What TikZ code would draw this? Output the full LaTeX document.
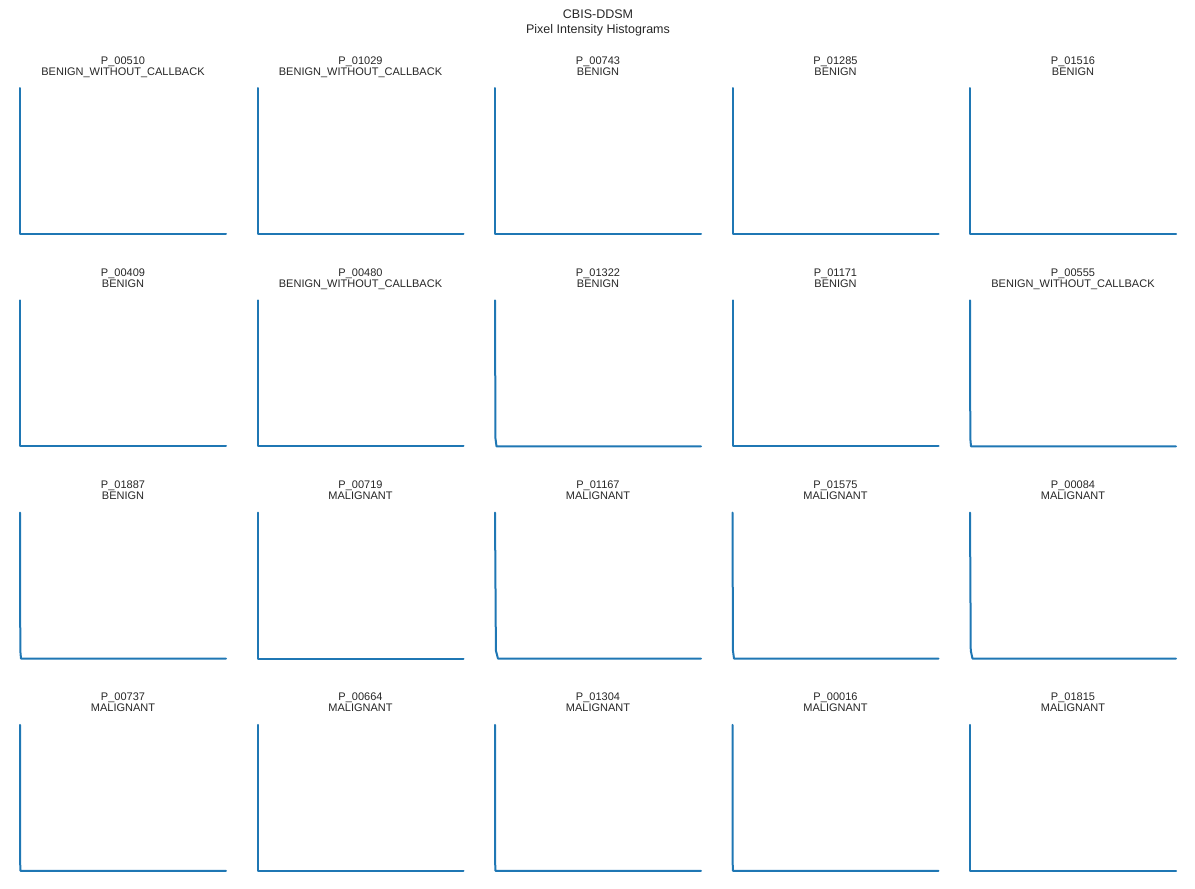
\documentclass[tikz,border=0pt]{standalone}
\usepackage{fontspec}
\setmainfont{Liberation Sans}
\definecolor{histblue}{HTML}{1F77B4}
\definecolor{txtgray}{HTML}{262626}
\begin{document}
\begin{tikzpicture}[x=1pt,y=-1pt,
    hist/.style={draw=histblue,line width=2pt,line join=round,line cap=round},
    ttl/.style={anchor=base,inner sep=0,text=txtgray,font=\fontsize{11}{11}\selectfont}]
\useasboundingbox (0,0) rectangle (1195,889);
%labels
\node[ttl,font=\fontsize{12.5}{12.5}\selectfont] (sup1) at (598,18.5){CBIS-DDSM};
\node[ttl,font=\fontsize{12.5}{12.5}\selectfont] (sup2) at (598,33){Pixel Intensity Histograms};
%panels: column/row/patient/pathology/tail
\foreach \c/\r/\id/\cls/\t in
{0/0/P\_00510/BENIGN\_WITHOUT\_CALLBACK/0, 1/0/P\_01029/BENIGN\_WITHOUT\_CALLBACK/0,
 2/0/P\_00743/BENIGN/0, 3/0/P\_01285/BENIGN/0, 4/0/P\_01516/BENIGN/0,
 0/1/P\_00409/BENIGN/0, 1/1/P\_00480/BENIGN\_WITHOUT\_CALLBACK/0,
 2/1/P\_01322/BENIGN/1.5, 3/1/P\_01171/BENIGN/0, 4/1/P\_00555/BENIGN\_WITHOUT\_CALLBACK/1,
 0/2/P\_01887/BENIGN/1, 1/2/P\_00719/MALIGNANT/0, 2/2/P\_01167/MALIGNANT/3,
 3/2/P\_01575/MALIGNANT/1.5, 4/2/P\_00084/MALIGNANT/2.5,
 0/3/P\_00737/MALIGNANT/0.5, 1/3/P\_00664/MALIGNANT/0, 2/3/P\_01304/MALIGNANT/0.5,
 3/3/P\_00016/MALIGNANT/0.5, 4/3/P\_01815/MALIGNANT/0}{
    \pgfmathsetmacro\xa{20+237.5*\c}
    \pgfmathsetmacro\ya{88+212.3*\r}
    \pgfmathsetmacro\yb{\ya+146}
    \node[ttl] (id\c\r) at (\xa+103,\ya-24){\id};
    \node[ttl] (cls\c\r) at (\xa+103,\ya-13){\cls};
    \draw[hist] (\xa,\ya) -- (\xa+0.3*\t,\yb-8) -- (\xa+\t,\yb) -- (\xa+206,\yb);
}
\end{tikzpicture}
\end{document}
